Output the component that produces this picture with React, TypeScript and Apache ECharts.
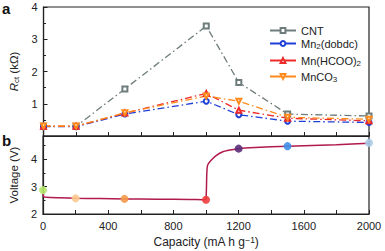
import React, { useEffect, useRef } from "react";
import * as echarts from "echarts";

const capacities = [0, 200, 500, 1000, 1200, 1500, 2000];
const rctCNT = [0.3, 0.3, 1.46, 3.41, 1.66, 0.68, 0.62];
const rctMn2dobdc = [0.29, 0.29, 0.68, 1.08, 0.66, 0.46, 0.42];
const rctMnHCOO2 = [0.3, 0.3, 0.71, 1.32, 0.8, 0.55, 0.47];
const rctMnCO3 = [0.31, 0.31, 0.72, 1.24, 1.08, 0.58, 0.52];

const voltageCap = [0, 5, 20, 100, 200, 350, 500, 700, 900, 990, 1000, 1005, 1010, 1030, 1060, 1100, 1150, 1200, 1300, 1500, 1800, 2000];
const voltage = [2.75, 2.63, 2.61, 2.59, 2.57, 2.56, 2.55, 2.54, 2.53, 2.52, 2.55, 3.5, 3.78, 3.95, 4.12, 4.26, 4.33, 4.38, 4.42, 4.47, 4.52, 4.58];

const markCap = [0, 200, 500, 1000, 1200, 1500, 2000];
const markVoltage = [2.87, 2.57, 2.55, 2.52, 4.38, 4.47, 4.59];
const markColors = ["#b6e86c", "#fcca8e", "#f49a4c", "#f03c3c", "#5a2c78", "#3f8fe8", "#a9c9e8"];

const seriesNames = ["CNT", "Mn2(dobdc)", "Mn(HCOO)2", "MnCO3"];
const seriesColors = ["#6f7c7c", "#1f3fd6", "#ee2b2b", "#ff8a1c"];
const legendLabels: Record<string, string> = {
  "CNT": "{n|CNT}",
  "Mn2(dobdc)": "{n|Mn}{s|2}{n|(dobdc)}",
  "Mn(HCOO)2": "{n|Mn(HCOO)}{s|2}",
  "MnCO3": "{n|MnCO}{s|3}",
};

const FONT = "'Liberation Sans', Arial, sans-serif";
const INK = "#222";

export default function App() {
  const ref = useRef<HTMLDivElement>(null);
  useEffect(() => {
    if (!ref.current) return;
    const chart = echarts.init(ref.current, undefined, { renderer: "svg" });
    const pair = (xs: number[], ys: number[]) => xs.map((x, i) => [x, ys[i]]);
    const dash = [7, 3, 1.5, 3];
    const lineSeries = (name: string, ys: number[], color: string, symbol: string, rotate = 0) => ({
      name,
      type: "line",
      xAxisIndex: 0,
      yAxisIndex: 0,
      data: pair(capacities, ys),
      symbol,
      symbolSize: 5,
      symbolRotate: rotate,
      showAllSymbol: true,
      lineStyle: { color, width: 1.3, type: dash },
      itemStyle: { color, borderColor: color, borderWidth: 1.3 },
      z: 3,
    });
    const rich = {
      n: { fontSize: 11, fontFamily: FONT, color: INK },
      s: { fontSize: 8, fontFamily: FONT, color: INK, verticalAlign: "bottom", padding: [5, 0, 0, 0] },
    };
    const legendTops = [20, 33, 50, 66];
    const yTickCommon = {
      axisLine: { show: true, lineStyle: { color: INK, width: 1.2 } },
      axisTick: { show: true, inside: true, length: 4, lineStyle: { color: INK } },
      minorTick: { show: true, splitNumber: 2, length: 2.5, lineStyle: { color: INK } },
      splitLine: { show: false },
      minorSplitLine: { show: false },
    };
    const xCommon = {
      type: "value",
      min: 0,
      max: 2000,
      interval: 400,
      axisLine: { show: true, lineStyle: { color: INK, width: 1.2 } },
      axisTick: { show: true, inside: true, length: 4, lineStyle: { color: INK } },
      minorTick: { show: true, splitNumber: 2, length: 4, lineStyle: { color: INK } },
      splitLine: { show: false },
      minorSplitLine: { show: false },
    };
    chart.setOption({
      animation: false,
      backgroundColor: "#fff",
      textStyle: { fontFamily: FONT },
      grid: [
        { left: 43, top: 7, right: 16, height: 129, show: true, borderColor: INK, borderWidth: 1.2, backgroundColor: "transparent" },
        { left: 43, top: 136, right: 16, height: 78, show: true, borderColor: INK, borderWidth: 1.2, backgroundColor: "transparent" },
      ],
      xAxis: [
        { ...xCommon, gridIndex: 0, axisLabel: { show: false } },
        {
          ...xCommon,
          gridIndex: 1,
          axisLabel: { show: true, fontSize: 11, color: INK, fontFamily: FONT, margin: 6, formatter: (v: number) => String(v) },
          name: "{n|Capacity (mA h g}{sup|−1}{n|)}",
          nameLocation: "middle",
          nameGap: 21,
          nameTextStyle: {
            rich: {
              n: { fontSize: 12, fontFamily: FONT, color: INK },
              sup: { fontSize: 8.5, fontFamily: FONT, color: INK, verticalAlign: "top", padding: [0, 0, 5, 0] },
            },
          },
        },
      ],
      yAxis: [
        {
          ...yTickCommon,
          type: "value",
          gridIndex: 0,
          min: 0,
          max: 4,
          interval: 1,
          axisLabel: { fontSize: 11, color: INK, fontFamily: FONT, margin: 6, formatter: (v: number) => (v === 0 ? "" : String(v)) },
          name: "{i|R}{s|ct}{n| (kΩ)}",
          nameLocation: "middle",
          nameGap: 17,
          nameTextStyle: {
            rich: {
              i: { fontSize: 11.5, fontFamily: FONT, color: INK, fontStyle: "italic" },
              n: { fontSize: 11.5, fontFamily: FONT, color: INK },
              s: { fontSize: 8, fontFamily: FONT, color: INK, verticalAlign: "bottom", padding: [5, 0, 0, 0] },
            },
          },
        },
        {
          ...yTickCommon,
          type: "value",
          gridIndex: 1,
          min: 2,
          max: 4.84,
          interval: 1,
          axisLabel: { fontSize: 11, color: INK, fontFamily: FONT, margin: 6, formatter: (v: number) => (Number.isInteger(v) ? String(v) : "") },
          name: "Voltage (V)",
          nameLocation: "middle",
          nameGap: 17,
          nameTextStyle: { fontSize: 11.5, fontFamily: FONT, color: INK },
        },
      ],
      legend: seriesNames.map((name, i) => ({
        data: [name],
        left: 264,
        top: legendTops[i],
        itemWidth: 26,
        itemHeight: 6,
        itemGap: 4,
        lineStyle: { type: "solid" },
        formatter: (n: string) => legendLabels[n],
        textStyle: { fontSize: 11, fontFamily: FONT, color: INK, rich },
        selectedMode: false,
      })),
      graphic: [
        { type: "text", left: 2, top: 1, style: { text: "a", font: `bold 15px ${FONT}`, fill: "#111" } },
        { type: "text", left: 2, top: 133, style: { text: "b", font: `bold 15px ${FONT}`, fill: "#111" } },
      ],
      series: [
        lineSeries(seriesNames[0], rctCNT, seriesColors[0], "emptyRect"),
        lineSeries(seriesNames[1], rctMn2dobdc, seriesColors[1], "emptyCircle"),
        lineSeries(seriesNames[2], rctMnHCOO2, seriesColors[2], "emptyTriangle"),
        lineSeries(seriesNames[3], rctMnCO3, seriesColors[3], "emptyTriangle", 180),
        {
          name: "voltage",
          type: "line",
          xAxisIndex: 1,
          yAxisIndex: 1,
          data: pair(voltageCap, voltage),
          symbol: "none",
          smooth: 0.2,
          lineStyle: { color: "#b01a4e", width: 1.5 },
          z: 2,
        },
        {
          name: "points",
          type: "scatter",
          xAxisIndex: 1,
          yAxisIndex: 1,
          data: markCap.map((x, i) => ({ value: [x, markVoltage[i]], itemStyle: { color: markColors[i], opacity: 0.9 } })),
          symbolSize: 8,
          clip: false,
          z: 4,
        },
      ],
    });
    return () => chart.dispose();
  }, []);
  return <div ref={ref} style={{ position: "fixed", left: 0, top: 0, width: 385, height: 251 }} />;
}
